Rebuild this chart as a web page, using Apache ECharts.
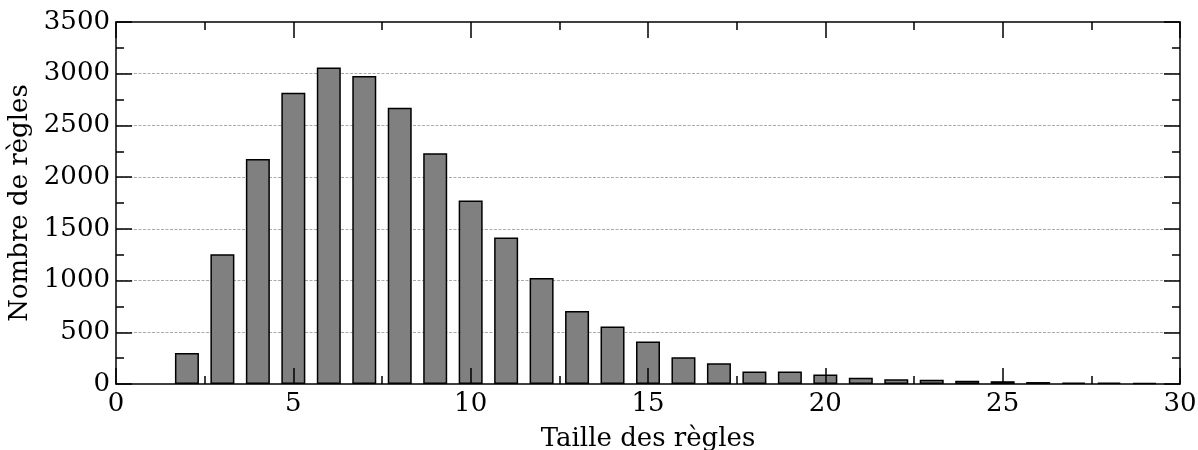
<!DOCTYPE html>
<html>
<head>
<meta charset="utf-8">
<script src="https://cdn.jsdelivr.net/npm/echarts@6/dist/echarts.min.js"></script>
<style>
html,body{margin:0;padding:0;background:#fff;}
#chart{width:1198px;height:450px;}
</style>
</head>
<body>
<div id="chart"></div>
<script>
const sizes = [2,3,4,5,6,7,8,9,10,11,12,13,14,15,16,17,18,19,20,21,22,23,24,25,26,27,28,29];
const counts = [300,1255,2175,2815,3060,2978,2670,2231,1774,1417,1024,705,557,412,258,200,122,122,93,60,46,40,31,27,19,13,14,10];
const xTitle = 'Taille des règles';
const yTitle = 'Nombre de règles';

const font = 'DejaVu Serif';
const fs = 26;
const chart = echarts.init(document.getElementById('chart'), null, {renderer: 'canvas'});

function ticks() {
  return {
    axisLine: {show: true, onZero: false, lineStyle: {color: '#000', width: 1.5}},
    axisTick: {show: true, inside: true, length: 16, lineStyle: {color: '#000', width: 1.5}},
    minorTick: {show: true, splitNumber: 2, length: 8, lineStyle: {color: '#000', width: 1.5}}
  };
}

chart.setOption({
  animation: false,
  grid: {left: 116, right: 18, top: 22, bottom: 66, containLabel: false, outerBoundsMode: 'none'},
  xAxis: [
    Object.assign({
      type: 'value', position: 'bottom', min: 0, max: 30, interval: 5, z: 5,
      name: xTitle, nameLocation: 'middle', nameGap: 42,
      nameTextStyle: {fontFamily: font, fontSize: fs, color: '#000'},
      axisLabel: {fontFamily: font, fontSize: fs, color: '#000', margin: 7},
      splitLine: {show: false}
    }, ticks()),
    Object.assign({
      type: 'value', position: 'top', min: 0, max: 30, interval: 5, z: 5,
      axisLabel: {show: false},
      splitLine: {show: false}
    }, ticks())
  ],
  yAxis: [
    Object.assign({
      type: 'value', position: 'left', min: 0, max: 3500, interval: 500,
      name: yTitle, nameLocation: 'middle', nameGap: 75,
      nameTextStyle: {fontFamily: font, fontSize: fs, color: '#000'},
      axisLabel: {fontFamily: font, fontSize: fs, color: '#000', margin: 6,
        formatter: v => String(v)},
      splitLine: {show: true, showMinLine: false, showMaxLine: false,
        lineStyle: {color: '#aaa', type: [3, 1.5], width: 1}}
    }, ticks()),
    Object.assign({
      type: 'value', position: 'right', min: 0, max: 3500, interval: 500,
      axisLabel: {show: false},
      splitLine: {show: false}
    }, ticks())
  ],
  series: [{
    type: 'bar',
    xAxisIndex: 0, yAxisIndex: 0,
    data: sizes.map((s, i) => [s, counts[i]]),
    barWidth: 24,
    itemStyle: {color: '#808080', borderColor: '#000', borderWidth: 1.5},
    emphasis: {disabled: true}
  }]
});
</script>
</body>
</html>
